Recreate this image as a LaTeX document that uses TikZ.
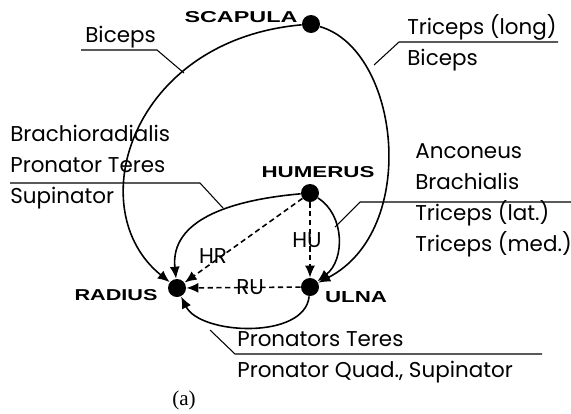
\documentclass[tikz,border=0pt]{standalone}
\usepackage{graphicx}
\usepackage{fontspec}
\setmainfont{Poppins}
\newfontfamily\bonefont{Liberation Sans}
\newfontfamily\capfont{Liberation Serif}
\newcommand{\bonetxt}[2]{\resizebox{#1}{0.22cm}{\bonefont\bfseries #2}}
\usetikzlibrary{arrows.meta}

\begin{document}
\begin{tikzpicture}[x=0.02cm,y=-0.02cm,
  bone/.style={circle,fill=black,inner sep=0pt,minimum size=0.36cm},
  bonelbl/.style={inner sep=0pt},
  mus/.style={font=\fontsize{12.2}{17.6}\selectfont,align=left,inner sep=0pt,anchor=west},
  ar/.style={-{Latex[length=2.4mm,width=2mm]},line width=0.9pt},
  dar/.style={ar,dash pattern=on 3pt off 2pt},
  ldr/.style={line width=0.6pt}]
\useasboundingbox (0,0) rectangle (571,413);
% bones
\node[bone] (scapula) at (311,24) {};
\node[bone] (humerus) at (310,193) {};
\node[bone] (radius) at (177,288) {};
\node[bone] (ulna) at (310,287) {};
\node[bonelbl] (scapulaL) at (241,17) {\bonetxt{2.26cm}{SCAPULA}};
\node[bonelbl] (humerusL) at (318,172) {\bonetxt{2.26cm}{HUMERUS}};
\node[bonelbl] (radiusL) at (116,295) {\bonetxt{1.66cm}{RADIUS}};
\node[bonelbl] (ulnaL) at (356,297) {\bonetxt{1.24cm}{ULNA}};
% muscles (solid)
\draw[ar] (scapula) .. controls (130,40) and (80,210) .. (radius);
\draw[ar] (scapula) .. controls (400,50) and (420,230) .. (ulna);
\draw[ar] (humerus) .. controls (230,200) and (170,220) .. (radius);
\draw[ar] (humerus) .. controls (345,215) and (345,260) .. (ulna);
\draw[ar] (ulna) .. controls (305,340) and (200,335) .. (radius);
% joints (dashed)
\draw[dar] (humerus) -- (radius);
\draw[dar] (humerus) -- (ulna);
\draw[dar] (ulna) -- (radius);
\node[mus,anchor=center] (hr) at (213,256) {HR};
\node[mus,anchor=center] (hu) at (307,240) {HU};
\node[mus,anchor=center] (ru) at (250,287) {RU};
% labels
\node[mus] (bicL) at (85,37) {Biceps};
\node[mus] (triL) at (407,42.5) {Triceps (long)\\Biceps};
\node[mus] (braL) at (10,167) {Brachioradialis\\Pronator Teres\\Supinator};
\node[mus] (ancL) at (415,200) {Anconeus\\Brachialis\\Triceps (lat.)\\Triceps (med.)};
\node[mus] (proL) at (237,357) {Pronators Teres\\Pronator Quad., Supinator};
\node[font=\capfont\fontsize{12}{12}\selectfont] (cap) at (184,400) {(a)};
% leaders
\coordinate (bicU) at (81,50); \coordinate (bicK) at (157,50); \coordinate (bicE) at (184,73);
\coordinate (triU) at (558,42); \coordinate (triK) at (399,42); \coordinate (triE) at (374,65);
\coordinate (braU) at (10,183); \coordinate (braK) at (200,183); \coordinate (braE) at (223,208);
\coordinate (ancU) at (571,202); \coordinate (ancK) at (360,202); \coordinate (ancE) at (335,227);
\coordinate (proU) at (542,354); \coordinate (proK) at (235,354); \coordinate (proE) at (210,330);
\draw[ldr] (bicU) -- (bicK) -- (bicE);
\draw[ldr] (triU) -- (triK) -- (triE);
\draw[ldr] (braU) -- (braK) -- (braE);
\draw[ldr] (ancU) -- (ancK) -- (ancE);
\draw[ldr] (proU) -- (proK) -- (proE);
\end{tikzpicture}
\end{document}
